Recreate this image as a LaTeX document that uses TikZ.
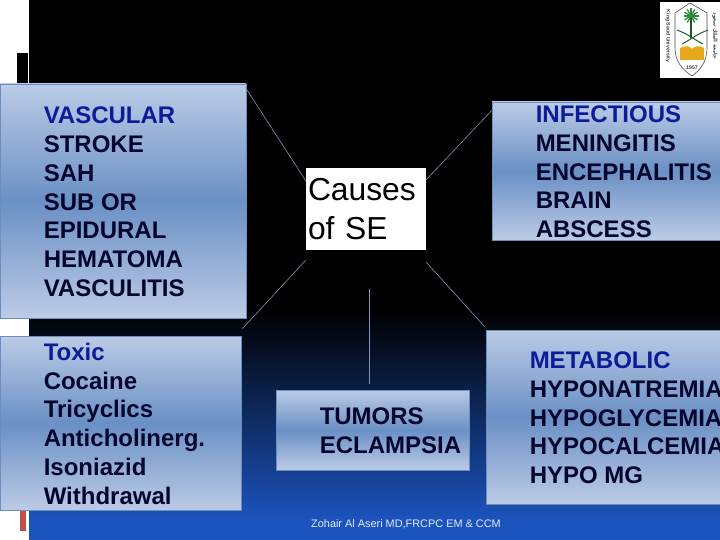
\documentclass[tikz,border=0pt]{standalone}
\usepackage{fontspec}
\usepackage{xcolor}
\setmainfont{Liberation Sans}
\newfontfamily\arabicfont[Script=Arabic]{DejaVu Sans}
\TeXXeTstate=1
\definecolor{slideblue}{HTML}{1C54BF}
\definecolor{slidered}{HTML}{C0504D}
\definecolor{paneltop}{HTML}{BCCBE6}
\definecolor{panelmid}{HTML}{6A90C5}
\definecolor{paneledge}{HTML}{6C8EBF}
\definecolor{panelink}{HTML}{03052C}
\definecolor{panelhead}{HTML}{0B1C98}
\definecolor{linkgrey}{HTML}{7E93B5}
\definecolor{logogreen}{HTML}{2F8A3C}
\definecolor{logogold}{HTML}{E8A81C}
\newcommand{\panelhd}[1]{\textcolor{panelhead}{#1}}

\begin{document}
\begin{tikzpicture}[
  x=1pt,
  y=-1pt,
  panel/.style={draw=paneledge, line width=0.9pt, inner sep=0pt,
    top color=paneltop, bottom color=paneltop, middle color=panelmid},
  paneltext/.style={anchor=west, inner sep=0pt, align=left, text=panelink, yshift=-0.8pt,
    font=\bfseries\fontsize{24}{28.9}\selectfont},
  centrebox/.style={fill=white, inner xsep=2pt, inner ysep=0pt, text=black, align=left,
    font=\fontsize{31.8}{39}\selectfont},
  link/.style={linkgrey, line width=0.6pt},
  footer/.style={text=white!88!slideblue, inner sep=0pt, font=\fontsize{10.9}{13}\selectfont},
  logotext/.style={text=black!75, inner sep=0pt, font=\bfseries\fontsize{5.2}{6}\selectfont}
]
  % ---- page ----
  \clip (0,0) rectangle (720,540);
  \fill[white] (0,0) rectangle (720,540);
  \fill[black] (29,0) rectangle (720,310);
  \shade[top color=black, bottom color=slideblue] (29,310) rectangle (720,522);
  \fill[slideblue] (29,522) rectangle (720,540);
  \fill[black] (17,53) rectangle (28,83);
  \fill[slidered] (20,505) rectangle (26,531);

  % ---- logo ----
  \fill[white] (660,2) rectangle (720,78);
  \draw[black!70, line width=0.6pt, fill=white]
    (690,3) -- (675,13) -- (675,48) .. controls (675,62) and (683,70) .. (692,76)
    .. controls (700,70) and (707,62) .. (707,48) -- (707,13) -- cycle;
  \foreach \frond in {0,30,...,330}
    \draw[logogreen, line width=1.3pt] (691,16) -- ++(\frond:7.5);
  \draw[logogreen!60!black, line width=1.2pt] (691,18) -- (691,38);
  \draw[logogreen!70!black, line width=1pt] (677,30) .. controls (688,34) and (695,40) .. (703,44);
  \draw[logogreen!70!black, line width=1pt] (708,30) .. controls (697,34) and (690,40) .. (682,44);
  \fill[logogold] (680,48) .. controls (686,45) and (690,46) .. (692,49)
    .. controls (695,46) and (699,45) .. (704,48) -- (704,60) -- (680,60) -- cycle;
  \node[logotext, rotate=-90] (logoleft) at (668,36) {King Saud University};
  \node[logotext, rotate=-90] (logoright) at (715,36) {\arabicfont\beginR جامعة الملك سعود\endR};
  \node[logotext] (logoyear) at (692,68) {1957};

  % ---- centre ----
  \node[centrebox, text width=116pt, minimum height=82pt] (causes) at (366,209) {Causes\\of SE};

  % ---- the four corners and the lower box ----
  \node[panel, minimum width=246pt, minimum height=234pt] (vascular) at (123,201) {};
  \node[paneltext] (vascularlabel) at ([xshift=44pt]vascular.west)
    {\panelhd{VASCULAR}\\STROKE\\SAH\\SUB OR\\EPIDURAL\\HEMATOMA\\VASCULITIS};

  \node[panel, minimum width=241pt, minimum height=174pt] (toxic) at (120.5,423) {};
  \node[paneltext] (toxiclabel) at ([xshift=44pt]toxic.west)
    {\panelhd{Toxic}\\Cocaine\\Tricyclics\\Anticholinerg.\\Isoniazid\\Withdrawal};

  \node[panel, minimum width=268pt, minimum height=138pt] (infectious) at (626,171) {};
  \node[paneltext] (infectiouslabel) at ([xshift=44pt]infectious.west)
    {\panelhd{INFECTIOUS}\\MENINGITIS\\ENCEPHALITIS\\BRAIN\\ABSCESS};

  \node[panel, minimum width=274pt, minimum height=174pt] (metabolic) at (623,417) {};
  \node[paneltext] (metaboliclabel) at ([xshift=44pt]metabolic.west)
    {\panelhd{METABOLIC}\\HYPONATREMIA\\HYPOGLYCEMIA\\HYPOCALCEMIA\\HYPO MG};

  \node[panel, minimum width=193pt, minimum height=80pt] (tumors) at (372.5,430) {};
  \node[paneltext] (tumorslabel) at ([xshift=44pt]tumors.west)
    {TUMORS\\ECLAMPSIA};

  % ---- connectors, all stop short of the boxes ----
  \draw[link] ([xshift=-1pt,yshift=-4pt]vascular.north east) -- ([yshift=-13pt]causes.north west);
  \draw[link] ([yshift=-12pt]causes.north east) -- ([yshift=-9pt]infectious.north west);
  \draw[link] ([yshift=-10pt]causes.south west) -- ([xshift=1pt,yshift=7pt]toxic.north east);
  \draw[link] ([yshift=-12pt]causes.south east) -- ([xshift=-1pt,yshift=3pt]metabolic.north west);
  \draw[link] ([xshift=3pt,yshift=-39pt]causes.south) -- ([xshift=-3.5pt,yshift=6pt]tumors.north);

  % ---- footer ----
  \node[footer] (credit) at (406,524) {Zohair Al Aseri MD,FRCPC EM \& CCM};
\end{tikzpicture}
\end{document}
